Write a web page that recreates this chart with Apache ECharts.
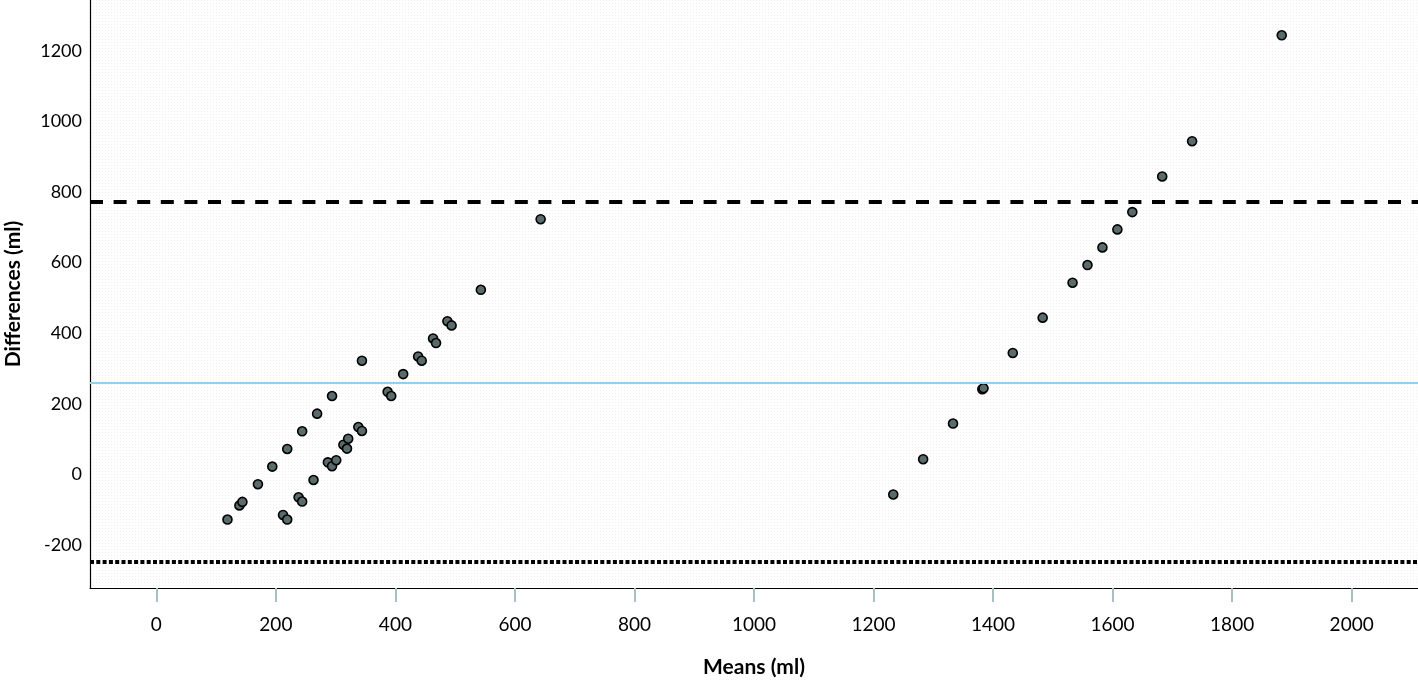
<!DOCTYPE html>
<html>
<head>
<meta charset="utf-8">
<title>Bland-Altman</title>
<script src="https://cdn.jsdelivr.net/npm/echarts@6/dist/echarts.min.js"></script>
<style>
  html, body { margin: 0; padding: 0; background: #fff; }
  #chart { width: 1418px; height: 681px; }
</style>
</head>
<body>
<div id="chart"></div>
<script>
// means (x) and differences (y)
const meanVals = [
  119, 139, 144, 170, 194, 219, 244, 269, 294, 344,
  212, 219, 238, 244, 263, 287, 294, 301, 313, 319, 321, 338, 344,
  387, 393, 413, 438, 444, 463, 468, 487, 494, 543, 643,
  1233, 1283, 1333, 1382, 1384, 1433, 1483, 1533, 1558, 1583, 1608, 1633, 1683, 1733, 1883
];
const diffVals = [
  -128, -88, -78, -28, 22, 72, 122, 172, 222, 322,
  -115, -128, -65, -77, -16, 34, 23, 40, 84, 73, 101, 134, 123,
  234, 222, 284, 334, 322, 385, 372, 434, 422, 523, 723,
  -57, 43, 144, 241, 244, 344, 444, 543, 593, 643, 694, 743, 844, 944, 1244
];

// mean difference and limits of agreement
const meanDiff = 259;
const upperLimit = 771;
const lowerLimit = -248;

const xTicks = [0, 200, 400, 600, 800, 1000, 1200, 1400, 1600, 1800, 2000];
const yTicks = [-200, 0, 200, 400, 600, 800, 1000, 1200];

const points = meanVals.map((m, i) => [m, diffVals[i]]);

// faint stipple like the original plot area
const dots = document.createElement('canvas');
dots.width = 3;
dots.height = 3;
const dctx = dots.getContext('2d');
dctx.fillStyle = '#ffffff';
dctx.fillRect(0, 0, 3, 3);
dctx.fillStyle = '#f0f0f0';
dctx.fillRect(0, 0, 1, 1);

const plain = v => String(v);

const chart = echarts.init(document.getElementById('chart'));
chart.setOption({
  animation: false,
  backgroundColor: '#ffffff',
  grid: {
    left: 90,
    right: 0,
    top: 0,
    bottom: 93,
    containLabel: false,
    outerBoundsMode: 'none',
    show: true,
    borderWidth: 0,
    backgroundColor: { image: dots, repeat: 'repeat' }
  },
  xAxis: {
    type: 'value',
    min: -111,
    max: 2111,
    name: 'Means (ml)',
    nameLocation: 'middle',
    nameGap: 69,
    nameTextStyle: { fontFamily: 'Lato', fontWeight: 'bold', fontSize: 21, color: '#000' },
    axisLine: { show: true, onZero: false, lineStyle: { color: '#000', width: 1.2 } },
    axisTick: {
      show: true,
      customValues: xTicks,
      length: 14,
      lineStyle: { color: '#a9bfc4', width: 2 }
    },
    axisLabel: {
      customValues: xTicks,
      formatter: plain,
      margin: 27,
      fontFamily: 'Lato',
      fontSize: 19,
      color: '#000'
    },
    splitLine: { show: false }
  },
  yAxis: {
    type: 'value',
    min: -322,
    max: 1344,
    name: 'Differences (ml)',
    nameLocation: 'middle',
    nameGap: 66,
    nameTextStyle: { fontFamily: 'Lato', fontWeight: 'bold', fontSize: 21, color: '#000' },
    axisLine: { show: true, onZero: false, lineStyle: { color: '#000', width: 1.2 } },
    axisTick: { show: false },
    axisLabel: {
      customValues: yTicks,
      formatter: plain,
      margin: 8,
      fontFamily: 'Lato',
      fontSize: 18,
      color: '#000'
    },
    splitLine: { show: false }
  },
  series: [
    {
      type: 'scatter',
      data: [],
      z: 1,
      markLine: {
        silent: true,
        symbol: 'none',
        label: { show: false },
        data: [
          { yAxis: upperLimit, lineStyle: { color: '#000', width: 4, type: [13, 10.6] } },
          { yAxis: meanDiff, lineStyle: { color: '#8fd2ef', width: 2, type: 'solid' } },
          { yAxis: lowerLimit, lineStyle: { color: '#000', width: 4, type: [4, 2.3] } }
        ]
      }
    },
    {
      type: 'scatter',
      z: 3,
      symbol: 'circle',
      symbolSize: 9,
      itemStyle: { color: '#5a6b6b', borderColor: '#000', borderWidth: 1.6, opacity: 1 },
      data: points
    }
  ]
});
</script>
</body>
</html>
